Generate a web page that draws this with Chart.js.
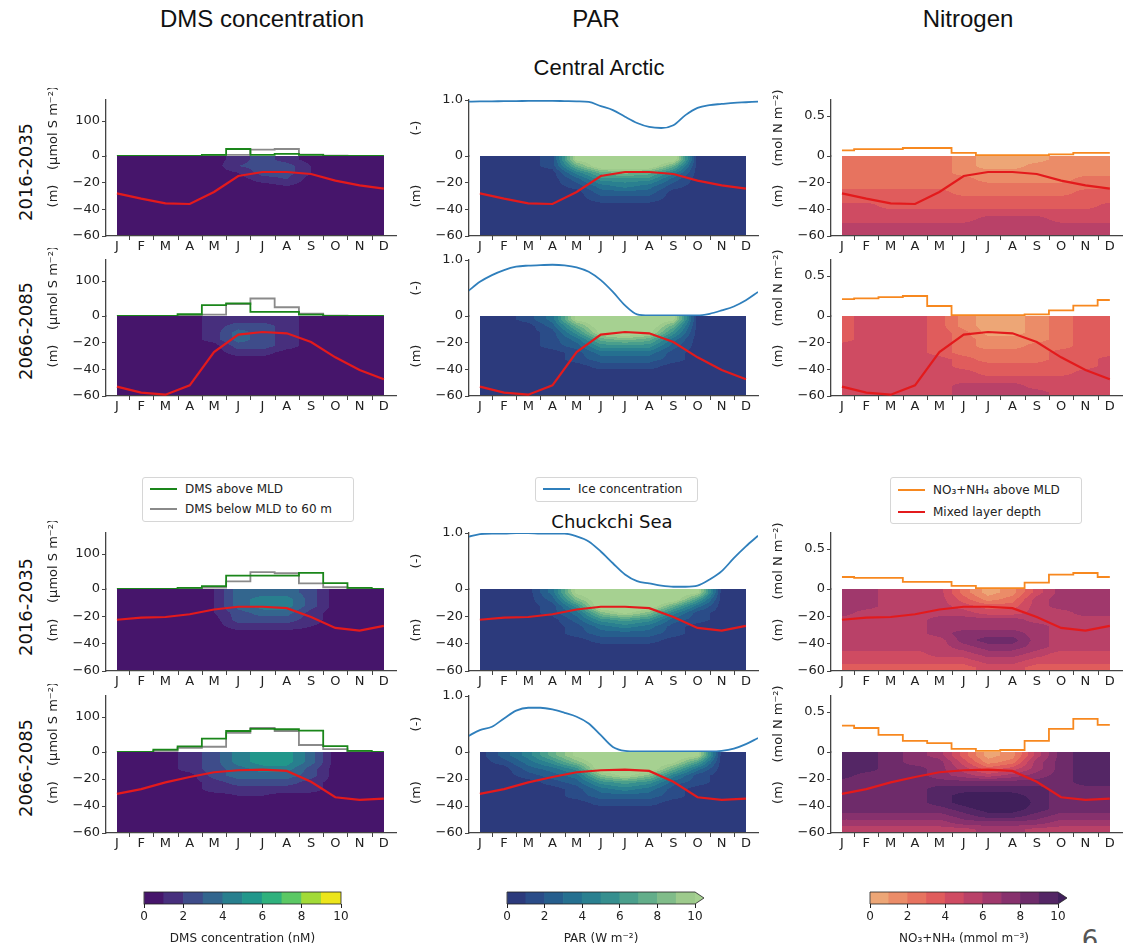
<!DOCTYPE html>
<html lang="en">
<head>
<meta charset="UTF-8">
<title>DMS, PAR and nitrogen - Central Arctic and Chuckchi Sea</title>
<script src="https://cdn.jsdelivr.net/npm/chart.js"></script>
<style>
    html, body { margin: 0; padding: 0; background: #fff; }
    body {
        width: 1128px; height: 943px; position: relative; overflow: hidden;
        font-family: "DejaVu Sans", sans-serif; color: #222;
    }
    canvas { position: absolute; }
    .t { position: absolute; white-space: nowrap; transform: translate(-50%, -50%); }
    .head { font-family: "Liberation Sans", Arial, sans-serif; font-size: 24px; color: #111; }
    .region { font-family: "Liberation Sans", Arial, sans-serif; font-size: 22px; color: #111; }
    .rowlab { position: absolute; white-space: nowrap; font-size: 18px; color: #111;
              transform: translate(-50%, -50%) rotate(-90deg); }
    .legend { position: absolute; border: 1px solid #d6d6d6; border-radius: 3px; background: #fff; font-size: 12px; }
    .legend .item { position: absolute; left: 0; height: 20px; line-height: 20px; white-space: nowrap; }
    .legend .ln { display: inline-block; width: 27px; height: 2px; vertical-align: middle; margin: 0 8px 2px 7px; }
</style>
</head>
<body>
<div class="t head" style="left:262px;top:19px">DMS concentration</div>
<div class="t head" style="left:596px;top:19px">PAR</div>
<div class="t head" style="left:968px;top:19px">Nitrogen</div>
<div class="t region" style="left:599px;top:68px">Central Arctic</div>
<div class="t" style="left:612px;top:521px;font-size:18px;color:#111">Chuckchi Sea</div>

<div class="rowlab" style="left:25px;top:172px">2016-2035</div>
<div class="rowlab" style="left:25px;top:331px">2066-2085</div>
<div class="rowlab" style="left:25px;top:607px">2016-2035</div>
<div class="rowlab" style="left:25px;top:768px">2066-2085</div>

<div class="legend" style="left:142px;top:477px;width:210px;height:43px">
    <div class="item" style="top:1px"><span class="ln" style="background:#1a861a"></span>DMS above MLD</div>
    <div class="item" style="top:21px"><span class="ln" style="background:#8a8a8a"></span>DMS below MLD to 60 m</div>
</div>
<div class="legend" style="left:535px;top:477px;width:161px;height:23px">
    <div class="item" style="top:1px"><span class="ln" style="background:#2f7fbc"></span>Ice concentration</div>
</div>
<div class="legend" style="left:890px;top:477px;width:190px;height:45px">
    <div class="item" style="top:2px"><span class="ln" style="background:#f7881f"></span>NO₃+NH₄ above MLD</div>
    <div class="item" style="top:24px"><span class="ln" style="background:#e31a1c"></span>Mixed layer depth</div>
</div>

<div class="t" style="left:1090px;top:940px;font-size:26px;color:#555">6</div>

<script>
    // ---- data ----
    const MONTHS = ['J', 'F', 'M', 'A', 'M', 'J', 'J', 'A', 'S', 'O', 'N', 'D'];
    const MONTH_X = [0, 1, 2, 3, 4, 5, 6, 7, 8, 9, 10, 11];
    const DEPTH_EDGES = [0, -5, -10, -15, -20, -25, -30, -35, -40, -45, -50, -55, -60];
    const DEPTH_TICKS = [-60, -40, -20];
    const CB_LEVELS = [0, 1, 2, 3, 4, 5, 6, 7, 8, 9, 10];
    const CB_TICKS = [0, 2, 4, 6, 8, 10];

    // mixed layer depth (m)
    const MLD_CA_2016 = [-28, -32, -35.5, -36, -27, -15, -12, -12, -13.5, -18.5, -22, -24.5];
    const MLD_CA_2066 = [-53, -57.5, -59, -52, -27, -14, -12, -13, -19.5, -31, -40.5, -47.5];
    const MLD_CS_2016 = [-22.5, -21, -20.5, -18.5, -15, -13, -13, -14, -20.5, -28.5, -30.5, -27];
    const MLD_CS_2066 = [-31, -27.5, -22.5, -18.5, -15, -13.5, -13, -14, -22, -33.5, -35.5, -34.5];

    // DMS inventories (umol S m-2)
    const DMS_ABOVE_CA_2016 = [0, 0, 0, 0, 3, 20, 3, 6, 3, 0, 0, 0];
    const DMS_BELOW_CA_2016 = [0, 0, 0, 0, 1, 3, 18, 20, 4, 1, 0, 0];
    const DMS_ABOVE_CA_2066 = [0, 0, 0, 5, 31, 36, 12, 12, 4, 0, 0, 0];
    const DMS_BELOW_CA_2066 = [0, 0, 0, 1, 4, 34, 50, 25, 7, 1, 0, 0];
    const DMS_ABOVE_CS_2016 = [0, 0, 0, 3, 8, 38, 38, 38, 46, 17, 3, 0];
    const DMS_BELOW_CS_2016 = [0, 0, 0, 1, 4, 22, 48, 45, 16, 5, 1, 0];
    const DMS_ABOVE_CS_2066 = [0, 0, 7, 16, 38, 60, 66, 65, 61, 17, 3, 0];
    const DMS_BELOW_CS_2066 = [0, 0, 3, 12, 15, 55, 69, 60, 20, 8, 2, 0];

    // ice concentration, read every half month
    const ICE_X = [-0.5, 0, 0.5, 1, 1.5, 2, 2.5, 3, 3.5, 4, 4.5, 5, 5.5, 6, 6.5, 7, 7.5, 8, 8.5, 9, 9.5, 10, 10.5, 11, 11.5];
    const ICE_CA_2016 = [0.97, 0.975, 0.975, 0.98, 0.98, 0.985, 0.985, 0.985, 0.98, 0.975, 0.965, 0.89, 0.82, 0.70, 0.59, 0.52, 0.50, 0.55, 0.73, 0.86, 0.91, 0.93, 0.95, 0.96, 0.97];
    const ICE_CA_2066 = [0.44, 0.61, 0.73, 0.82, 0.88, 0.90, 0.91, 0.915, 0.905, 0.87, 0.79, 0.64, 0.43, 0.19, 0.03, 0.01, 0.01, 0.01, 0.01, 0.01, 0.04, 0.10, 0.17, 0.28, 0.43];
    const ICE_CS_2016 = [0.93, 0.98, 0.99, 0.99, 1.0, 1.0, 0.99, 0.99, 0.99, 0.94, 0.85, 0.67, 0.46, 0.26, 0.14, 0.10, 0.06, 0.04, 0.04, 0.06, 0.17, 0.32, 0.55, 0.76, 0.95];
    const ICE_CS_2066 = [0.28, 0.39, 0.45, 0.60, 0.74, 0.79, 0.79, 0.76, 0.70, 0.63, 0.51, 0.30, 0.09, 0.02, 0.01, 0.01, 0.01, 0.01, 0.01, 0.01, 0.01, 0.02, 0.06, 0.14, 0.25];

    // NO3+NH4 above MLD (mol N m-2)
    const NIT_CA_2016 = [0.07, 0.085, 0.085, 0.10, 0.10, 0.04, 0.01, 0.01, 0.01, 0.02, 0.04, 0.04];
    const NIT_CA_2066 = [0.21, 0.22, 0.235, 0.25, 0.125, 0.01, 0.01, 0.01, 0.02, 0.07, 0.13, 0.20];
    const NIT_CS_2016 = [0.15, 0.14, 0.14, 0.09, 0.09, 0.04, 0.01, 0.01, 0.08, 0.18, 0.20, 0.15];
    const NIT_CS_2066 = [0.33, 0.30, 0.215, 0.14, 0.11, 0.04, 0.013, 0.025, 0.14, 0.29, 0.415, 0.34];

    // depth sections: rows = 5 m layers from the surface (values at layer centres), columns = months
    const DMS_GRID_CA_2016 = [
        [0, 0, 0, 0, 0, 1, 2, 1, 0, 0, 0, 0],
        [0, 0, 0, 0, 0, 1.5, 2, 2, 0.5, 0, 0, 0],
        [0, 0, 0, 0, 0, 0.5, 2, 2, 0.5, 0, 0, 0],
        [0, 0, 0, 0, 0, 0, 1, 1.5, 0, 0, 0, 0],
        [0, 0, 0, 0, 0, 0, 0, 0.5, 0, 0, 0, 0],
        [0, 0, 0, 0, 0, 0, 0, 0, 0, 0, 0, 0],
        [0, 0, 0, 0, 0, 0, 0, 0, 0, 0, 0, 0],
        [0, 0, 0, 0, 0, 0, 0, 0, 0, 0, 0, 0],
        [0, 0, 0, 0, 0, 0, 0, 0, 0, 0, 0, 0],
        [0, 0, 0, 0, 0, 0, 0, 0, 0, 0, 0, 0],
        [0, 0, 0, 0, 0, 0, 0, 0, 0, 0, 0, 0],
        [0, 0, 0, 0, 0, 0, 0, 0, 0, 0, 0, 0]
    ];
    const DMS_GRID_CA_2066 = [
        [0, 0, 0, 0, 1, 1, 1, 1, 0, 0, 0, 0],
        [0, 0, 0, 0, 1, 2, 2, 1, 0, 0, 0, 0],
        [0, 0, 0, 0, 1, 3, 2, 1, 0, 0, 0, 0],
        [0, 0, 0, 0, 1, 3, 2, 1, 0, 0, 0, 0],
        [0, 0, 0, 0, 0, 2, 2, 1, 0, 0, 0, 0],
        [0, 0, 0, 0, 0, 1, 1, 0, 0, 0, 0, 0],
        [0, 0, 0, 0, 0, 0, 0, 0, 0, 0, 0, 0],
        [0, 0, 0, 0, 0, 0, 0, 0, 0, 0, 0, 0],
        [0, 0, 0, 0, 0, 0, 0, 0, 0, 0, 0, 0],
        [0, 0, 0, 0, 0, 0, 0, 0, 0, 0, 0, 0],
        [0, 0, 0, 0, 0, 0, 0, 0, 0, 0, 0, 0],
        [0, 0, 0, 0, 0, 0, 0, 0, 0, 0, 0, 0]
    ];
    const DMS_GRID_CS_2016 = [
        [0, 0, 0, 0, 0.5, 3, 3, 3, 2, 0, 0, 0],
        [0, 0, 0, 0, 0.5, 3, 4, 4, 2, 0, 0, 0],
        [0, 0, 0, 0, 0.5, 3, 4, 4, 2, 0, 0, 0],
        [0, 0, 0, 0, 0.5, 2, 3, 3, 1, 0, 0, 0],
        [0, 0, 0, 0, 0, 2, 2, 2, 1, 0, 0, 0],
        [0, 0, 0, 0, 0, 1, 1, 1, 0.5, 0, 0, 0],
        [0, 0, 0, 0, 0, 0, 0, 0, 0, 0, 0, 0],
        [0, 0, 0, 0, 0, 0, 0, 0, 0, 0, 0, 0],
        [0, 0, 0, 0, 0, 0, 0, 0, 0, 0, 0, 0],
        [0, 0, 0, 0, 0, 0, 0, 0, 0, 0, 0, 0],
        [0, 0, 0, 0, 0, 0, 0, 0, 0, 0, 0, 0],
        [0, 0, 0, 0, 0, 0, 0, 0, 0, 0, 0, 0]
    ];
    const DMS_GRID_CS_2066 = [
        [0, 0, 0, 1, 2, 4, 5, 5, 3, 0, 0, 0],
        [0, 0, 0, 1, 2, 4, 5, 5, 3, 0, 0, 0],
        [0, 0, 0, 1, 2, 3, 4, 4, 2, 0, 0, 0],
        [0, 0, 0, 0, 2, 3, 3, 3, 2, 0, 0, 0],
        [0, 0, 0, 0, 1, 2, 2, 2, 1, 0, 0, 0],
        [0, 0, 0, 0, 1, 1, 1, 1, 1, 0, 0, 0],
        [0, 0, 0, 0, 0, 0.5, 0.5, 0, 0, 0, 0, 0],
        [0, 0, 0, 0, 0, 0, 0, 0, 0, 0, 0, 0],
        [0, 0, 0, 0, 0, 0, 0, 0, 0, 0, 0, 0],
        [0, 0, 0, 0, 0, 0, 0, 0, 0, 0, 0, 0],
        [0, 0, 0, 0, 0, 0, 0, 0, 0, 0, 0, 0],
        [0, 0, 0, 0, 0, 0, 0, 0, 0, 0, 0, 0]
    ];
    const PAR_GRID_CA_2016 = [
        [0, 0, 0, 1, 10, 11, 11, 11, 11, 0, 0, 0],
        [0, 0, 0, 1, 7, 11, 11, 11, 7, 0, 0, 0],
        [0, 0, 0, 0, 4, 7, 8, 7, 4, 0, 0, 0],
        [0, 0, 0, 0, 2, 5, 5, 5, 2, 0, 0, 0],
        [0, 0, 0, 0, 1, 3, 4, 3, 1, 0, 0, 0],
        [0, 0, 0, 0, 0, 2, 2, 2, 0, 0, 0, 0],
        [0, 0, 0, 0, 0, 1, 1, 1, 0, 0, 0, 0],
        [0, 0, 0, 0, 0, 0, 0, 0, 0, 0, 0, 0],
        [0, 0, 0, 0, 0, 0, 0, 0, 0, 0, 0, 0],
        [0, 0, 0, 0, 0, 0, 0, 0, 0, 0, 0, 0],
        [0, 0, 0, 0, 0, 0, 0, 0, 0, 0, 0, 0],
        [0, 0, 0, 0, 0, 0, 0, 0, 0, 0, 0, 0]
    ];
    const PAR_GRID_CA_2066 = [
        [0, 0, 1, 3, 10, 11, 11, 11, 10, 0, 0, 0],
        [0, 0, 0, 2, 7, 11, 11, 11, 7, 0, 0, 0],
        [0, 0, 0, 1, 5, 10, 11, 10, 5, 0, 0, 0],
        [0, 0, 0, 1, 3, 7, 8, 7, 3, 0, 0, 0],
        [0, 0, 0, 1, 2, 5, 5, 5, 2, 0, 0, 0],
        [0, 0, 0, 0, 1, 3, 3, 3, 1, 0, 0, 0],
        [0, 0, 0, 0, 1, 2, 2, 2, 1, 0, 0, 0],
        [0, 0, 0, 0, 0, 1, 1, 1, 0, 0, 0, 0],
        [0, 0, 0, 0, 0, 0, 0, 0, 0, 0, 0, 0],
        [0, 0, 0, 0, 0, 0, 0, 0, 0, 0, 0, 0],
        [0, 0, 0, 0, 0, 0, 0, 0, 0, 0, 0, 0],
        [0, 0, 0, 0, 0, 0, 0, 0, 0, 0, 0, 0]
    ];
    const PAR_GRID_CS_2016 = [
        [0, 0, 0, 3, 10, 11, 11, 11, 11, 10, 0, 0],
        [0, 0, 0, 2, 8, 11, 11, 11, 11, 6, 0, 0],
        [0, 0, 0, 1, 5, 11, 11, 11, 7, 3, 0, 0],
        [0, 0, 0, 1, 3, 8, 10, 8, 4, 1, 0, 0],
        [0, 0, 0, 0, 2, 5, 6, 5, 2, 1, 0, 0],
        [0, 0, 0, 0, 1, 3, 4, 3, 1, 0, 0, 0],
        [0, 0, 0, 0, 1, 2, 2, 2, 1, 0, 0, 0],
        [0, 0, 0, 0, 0, 1, 1, 1, 0, 0, 0, 0],
        [0, 0, 0, 0, 0, 0, 0, 0, 0, 0, 0, 0],
        [0, 0, 0, 0, 0, 0, 0, 0, 0, 0, 0, 0],
        [0, 0, 0, 0, 0, 0, 0, 0, 0, 0, 0, 0],
        [0, 0, 0, 0, 0, 0, 0, 0, 0, 0, 0, 0]
    ];
    const PAR_GRID_CS_2066 = [
        [0, 2, 4, 7, 10, 11, 11, 11, 11, 10, 0, 0],
        [0, 1, 3, 5, 8, 11, 11, 11, 10, 6, 0, 0],
        [0, 0, 2, 3, 5, 11, 11, 11, 7, 3, 0, 0],
        [0, 0, 1, 2, 3, 8, 10, 8, 4, 1, 0, 0],
        [0, 0, 0, 1, 2, 5, 6, 5, 2, 1, 0, 0],
        [0, 0, 0, 0, 1, 3, 4, 3, 1, 0, 0, 0],
        [0, 0, 0, 0, 1, 2, 2, 2, 1, 0, 0, 0],
        [0, 0, 0, 0, 0, 1, 1, 1, 0, 0, 0, 0],
        [0, 0, 0, 0, 0, 0, 0, 0, 0, 0, 0, 0],
        [0, 0, 0, 0, 0, 0, 0, 0, 0, 0, 0, 0],
        [0, 0, 0, 0, 0, 0, 0, 0, 0, 0, 0, 0],
        [0, 0, 0, 0, 0, 0, 0, 0, 0, 0, 0, 0]
    ];
    const NIT_GRID_CA_2016 = [
        [2, 2, 2, 2, 2, 1, 0, 0, 0, 1, 1, 1],
        [2, 2, 2, 2, 2, 1, 0, 0, 1, 1, 1, 1],
        [2, 2, 2, 2, 2, 1, 1, 1, 1, 1, 1, 1],
        [2, 2, 2, 2, 2, 2, 1, 1, 1, 1, 2, 2],
        [2, 2, 2, 2, 2, 2, 2, 2, 2, 2, 2, 2],
        [3, 3, 3, 3, 3, 2, 2, 2, 2, 2, 3, 3],
        [3, 3, 3, 3, 3, 3, 3, 3, 3, 3, 3, 3],
        [4, 4, 3, 3, 3, 3, 3, 3, 3, 3, 3, 4],
        [4, 4, 4, 4, 4, 4, 4, 4, 4, 4, 4, 4],
        [4, 4, 4, 4, 4, 4, 5, 5, 5, 4, 4, 4],
        [5, 5, 5, 5, 5, 5, 5, 5, 5, 5, 5, 5],
        [5, 5, 5, 5, 5, 5, 5, 5, 5, 5, 5, 5]
    ];
    const NIT_GRID_CA_2066 = [
        [3, 4, 4, 4, 3, 1, 0, 0, 1, 2, 3, 3],
        [3, 4, 4, 4, 3, 1, 0, 0, 1, 2, 3, 3],
        [3, 4, 4, 4, 3, 2, 0, 0, 1, 2, 3, 3],
        [3, 4, 4, 4, 3, 2, 1, 1, 1, 2, 3, 3],
        [4, 4, 4, 4, 3, 2, 1, 1, 2, 2, 3, 3],
        [4, 4, 4, 4, 3, 2, 2, 2, 2, 3, 3, 3],
        [4, 4, 4, 4, 4, 3, 2, 2, 2, 3, 3, 4],
        [4, 4, 4, 4, 4, 3, 3, 3, 3, 3, 3, 4],
        [4, 4, 4, 4, 4, 4, 3, 3, 3, 3, 4, 4],
        [4, 4, 4, 4, 4, 4, 4, 4, 4, 4, 4, 4],
        [4, 4, 4, 4, 4, 5, 5, 5, 4, 4, 4, 4],
        [4, 4, 4, 4, 4, 5, 5, 5, 5, 4, 4, 4]
    ];
    const NIT_GRID_CS_2016 = [
        [6, 6, 5, 5, 5, 2, 0, 1, 4, 6, 6, 6],
        [6, 6, 5, 5, 5, 3, 1, 2, 5, 6, 6, 6],
        [6, 6, 5, 5, 5, 4, 3, 3, 5, 6, 6, 6],
        [6, 5, 5, 5, 5, 5, 4, 4, 5, 5, 6, 6],
        [5, 5, 5, 5, 6, 6, 6, 6, 5, 5, 5, 5],
        [5, 5, 5, 5, 6, 6, 6, 6, 6, 5, 5, 5],
        [5, 5, 5, 5, 6, 7, 7, 7, 6, 5, 5, 5],
        [5, 5, 5, 5, 5, 7, 8, 8, 6, 5, 5, 5],
        [5, 5, 5, 5, 5, 6, 7, 7, 6, 5, 5, 5],
        [4, 4, 4, 4, 5, 5, 6, 6, 5, 4, 4, 4],
        [4, 4, 4, 4, 4, 4, 5, 5, 4, 4, 4, 4],
        [3, 3, 3, 3, 3, 3, 4, 4, 3, 3, 3, 3]
    ];
    const NIT_GRID_CS_2066 = [
        [9, 9, 8, 7, 6, 3, 0, 1, 5, 8, 9, 9],
        [9, 9, 8, 7, 7, 4, 1, 2, 6, 8, 9, 9],
        [9, 9, 8, 8, 7, 5, 3, 4, 6, 8, 9, 9],
        [9, 8, 8, 8, 7, 6, 5, 6, 7, 8, 9, 9],
        [8, 8, 8, 8, 8, 8, 8, 8, 8, 8, 9, 9],
        [8, 8, 8, 8, 9, 9, 9, 9, 9, 8, 8, 8],
        [8, 8, 8, 8, 9, 10, 10, 10, 9, 8, 8, 8],
        [8, 8, 8, 8, 9, 10, 11, 11, 9, 8, 8, 8],
        [8, 8, 8, 8, 8, 9, 10, 10, 9, 8, 8, 8],
        [7, 7, 7, 7, 7, 8, 9, 9, 8, 7, 7, 7],
        [6, 6, 6, 6, 6, 7, 7, 7, 7, 6, 6, 6],
        [5, 5, 5, 5, 5, 5, 6, 6, 5, 5, 5, 5]
    ];

    // ---- styles ----
    const DMS_COLORS = ['#46156b', '#472f7d', '#3e4c8a', '#33668e', '#287f8e', '#21978b', '#2fb17d', '#5bc864', '#a2da37', '#ece51b'];
    const PAR_COLORS = ['#2c3a7c', '#2a4c88', '#265e8d', '#257090', '#2a8090', '#368f8f', '#4a9f8c', '#63ae8a', '#80bc89', '#9dca8c', '#a6d191'];
    const NIT_COLORS = ['#eda676', '#eb8c68', '#e7735f', '#e05c5c', '#cf4b62', '#b94168', '#a0386c', '#87316d', '#6e2b6a', '#542665', '#401f5b'];
    const RED = '#e31a1c', GREEN = '#1a861a', GREY = '#8a8a8a', BLUE = '#2f7fbc', ORANGE = '#f7881f';
    const AXIS = '#444', TXT = '#222';
    const FONT = { family: 'DejaVu Sans', size: 13 };

    Chart.defaults.font.family = 'DejaVu Sans';

    const ROWS = [
        { top: 100, bot: 236, mld: MLD_CA_2016, above: DMS_ABOVE_CA_2016, below: DMS_BELOW_CA_2016, dms: DMS_GRID_CA_2016, ice: ICE_CA_2016, par: PAR_GRID_CA_2016, nit: NIT_CA_2016, nitGrid: NIT_GRID_CA_2016 },
        { top: 260, bot: 396, mld: MLD_CA_2066, above: DMS_ABOVE_CA_2066, below: DMS_BELOW_CA_2066, dms: DMS_GRID_CA_2066, ice: ICE_CA_2066, par: PAR_GRID_CA_2066, nit: NIT_CA_2066, nitGrid: NIT_GRID_CA_2066 },
        { top: 533, bot: 671, mld: MLD_CS_2016, above: DMS_ABOVE_CS_2016, below: DMS_BELOW_CS_2016, dms: DMS_GRID_CS_2016, ice: ICE_CS_2016, par: PAR_GRID_CS_2016, nit: NIT_CS_2016, nitGrid: NIT_GRID_CS_2016 },
        { top: 696, bot: 833, mld: MLD_CS_2066, above: DMS_ABOVE_CS_2066, below: DMS_BELOW_CS_2066, dms: DMS_GRID_CS_2066, ice: ICE_CS_2066, par: PAR_GRID_CS_2066, nit: NIT_CS_2066, nitGrid: NIT_GRID_CS_2066 }
    ];

    const monthly = arr => arr.map((v, i) => ({ x: MONTH_X[i], y: v }));
    const line = (data, color, axis, width, extra) => Object.assign({
        data: data, yAxisID: axis, borderColor: color, borderWidth: width,
        pointRadius: 0, fill: false, tension: 0
    }, extra || {});

    const COLS = [
        {
            left: 44, right: 396, topMax: 160, topTicks: [0, 100], dec: false, title: '(µmol S m⁻²)',
            grid: r => r.dms, colors: DMS_COLORS,
            sets: r => [
                line(monthly(r.mld), RED, 'yB', 2.2),
                line(monthly(r.above), GREEN, 'yT', 1.8, { stepped: 'middle' }),
                line(monthly(r.below), GREY, 'yT', 1.8, { stepped: 'middle' })
            ]
        },
        {
            left: 407, right: 758, topMax: 1.0, topTicks: [0, 0.5, 1.0], dec: true, title: '(-)',
            grid: r => r.par, colors: PAR_COLORS,
            sets: r => [
                line(monthly(r.mld), RED, 'yB', 2.2),
                line(r.ice.map((v, i) => ({ x: ICE_X[i], y: v })), BLUE, 'yT', 1.8, { cubicInterpolationMode: 'monotone' })
            ]
        },
        {
            left: 769, right: 1122, topMax: 0.7, topTicks: [0, 0.5], dec: true, title: '(mol N m⁻²)',
            grid: r => r.nitGrid, colors: NIT_COLORS,
            sets: r => [
                line(monthly(r.mld), RED, 'yB', 2.2),
                line(monthly(r.nit), ORANGE, 'yT', 1.8, { stepped: 'middle' })
            ]
        }
    ];

    // ---- filled depth section ----
    const DEPTH_C = DEPTH_EDGES.slice(0, -1).map((e, i) => (e + DEPTH_EDGES[i + 1]) / 2);

    // fractional position of v inside a monotonic list of grid centres
    function fracPos(v, c) {
        const n = c.length;
        for (let k = 0; k < n - 1; k++) {
            const a = c[k], b = c[k + 1];
            if ((v - a) * (v - b) <= 0) return k + (v - a) / (b - a);
        }
        return Math.abs(v - c[0]) < Math.abs(v - c[n - 1]) ? 0 : n - 1;
    }

    function sample(grid, fr, fc) {
        const r0 = Math.floor(fr), c0 = Math.floor(fc);
        const r1 = Math.min(r0 + 1, grid.length - 1), c1 = Math.min(c0 + 1, grid[0].length - 1);
        const tr = fr - r0, tc = fc - c0;
        const a = grid[r0][c0] * (1 - tc) + grid[r0][c1] * tc;
        const b = grid[r1][c0] * (1 - tc) + grid[r1][c1] * tc;
        return a * (1 - tr) + b * tr;
    }

    const hexRgb = h => [1, 3, 5].map(i => parseInt(h.substr(i, 2), 16));

    function sectionPlugin(grid, colors) {
        const rgb = colors.map(hexRgb);
        return {
            id: 'section',
            beforeDraw(chart) {
                const ctx = chart.ctx, xs = chart.scales.x, ys = chart.scales.yB;
                const left = Math.round(xs.getPixelForValue(MONTH_X[0]));
                const right = Math.round(xs.getPixelForValue(MONTH_X[MONTH_X.length - 1]));
                const top = Math.round(ys.getPixelForValue(DEPTH_EDGES[0]));
                const bottom = Math.round(ys.getPixelForValue(DEPTH_EDGES[DEPTH_EDGES.length - 1]));
                const w = right - left, h = bottom - top;
                const img = ctx.createImageData(w, h);
                const fc = [], fr = [];
                for (let i = 0; i < w; i++) fc.push(fracPos(xs.getValueForPixel(left + i + 0.5), MONTH_X));
                for (let j = 0; j < h; j++) fr.push(fracPos(ys.getValueForPixel(top + j + 0.5), DEPTH_C));
                for (let j = 0; j < h; j++) {
                    for (let i = 0; i < w; i++) {
                        const v = sample(grid, fr[j], fc[i]);
                        const band = Math.max(0, Math.min(rgb.length - 1, Math.floor(v + 0.5)));
                        const p = (j * w + i) * 4, c = rgb[band];
                        img.data[p] = c[0]; img.data[p + 1] = c[1]; img.data[p + 2] = c[2]; img.data[p + 3] = 255;
                    }
                }
                ctx.putImageData(img, left, top);
            },
            afterDraw(chart) {
                // tick marks between month labels
                const ctx = chart.ctx, x = chart.scales.x;
                ctx.save();
                ctx.strokeStyle = AXIS;
                ctx.lineWidth = 1;
                ctx.beginPath();
                for (let i = 0; i < MONTH_X.length - 1; i++) {
                    const px = Math.round(x.getPixelForValue(MONTH_X[i] + 0.5)) + 0.5;
                    ctx.moveTo(px, x.top);
                    ctx.lineTo(px, x.top + 4);
                }
                ctx.stroke();
                ctx.restore();
            }
        };
    }

    const PAD_T = 12, X_H = 24, Y_W = 62, TOP_H = 56;

    function panel(col, row) {
        const cv = document.createElement('canvas');
        const w = col.right + 4 - col.left;
        const h = row.bot - row.top + PAD_T + X_H;
        cv.width = w; cv.height = h;
        cv.style.left = col.left + 'px';
        cv.style.top = (row.top - PAD_T) + 'px';
        document.body.appendChild(cv);

        new Chart(cv, {
            type: 'line',
            data: { datasets: col.sets(row) },
            options: {
                responsive: false, animation: false, events: [],
                layout: { padding: { top: PAD_T, right: 4, left: 0, bottom: 0 } },
                plugins: { legend: { display: false }, tooltip: { enabled: false } },
                scales: {
                    x: {
                        type: 'linear', min: -0.45, max: 11.5,
                        afterBuildTicks: s => { s.ticks = MONTH_X.map(v => ({ value: v })); },
                        afterFit: s => { s.height = X_H; },
                        ticks: { autoSkip: false, maxRotation: 0, padding: 3, color: TXT, font: FONT,
                                 callback: v => MONTHS[Math.round(v)] },
                        grid: { drawOnChartArea: false, drawTicks: false },
                        border: { display: true, color: AXIS, width: 1.3 }
                    },
                    yB: {
                        type: 'linear', position: 'left', stack: 'v', stackWeight: row.bot - row.top - TOP_H,
                        min: -60, max: 0,
                        afterBuildTicks: s => { s.ticks = DEPTH_TICKS.map(v => ({ value: v })); },
                        afterFit: s => { s.width = Y_W; },
                        ticks: { padding: 2, color: TXT, font: FONT, callback: v => '\u2212' + Math.abs(v) },
                        grid: { drawOnChartArea: false, tickLength: 4, color: AXIS },
                        border: { display: true, color: AXIS, width: 1.3 },
                        title: { display: true, text: '(m)', color: TXT, font: FONT, padding: { top: 2, bottom: 0 } }
                    },
                    yT: {
                        type: 'linear', position: 'left', stack: 'v', stackWeight: TOP_H,
                        min: 0, max: col.topMax,
                        afterBuildTicks: s => { s.ticks = col.topTicks.map(v => ({ value: v })); },
                        afterFit: s => { s.width = Y_W; },
                        ticks: { padding: 2, color: TXT, font: FONT,
                                 callback: v => v === 0 ? '0' : (col.dec ? v.toFixed(1) : String(v)) },
                        grid: { drawOnChartArea: false, tickLength: 4, color: AXIS },
                        border: { display: true, color: AXIS, width: 1.3 },
                        title: { display: true, text: col.title, color: TXT, font: FONT, padding: { top: 2, bottom: 0 } }
                    }
                }
            },
            plugins: [sectionPlugin(col.grid(row), col.colors)]
        });
    }

    ROWS.forEach(r => COLS.forEach(c => panel(c, r)));

    // ---- colour bars ----
    function colorbar(left, right, colors, extend, title) {
        const cv = document.createElement('canvas');
        const padL = 14, padR = 16;
        cv.width = right - left + padL + padR; cv.height = 56;
        cv.style.left = (left - padL) + 'px';
        cv.style.top = '890px';
        document.body.appendChild(cv);

        const outline = {
            id: 'outline',
            afterDatasetsDraw(chart) {
                const ctx = chart.ctx, a = chart.chartArea, x = chart.scales.x;
                ctx.save();
                ctx.strokeStyle = '#222';
                ctx.lineWidth = 0.8;
                if (extend) {
                    const x10 = x.getPixelForValue(CB_LEVELS[CB_LEVELS.length - 1]);
                    const mid = (a.top + a.bottom) / 2;
                    ctx.fillStyle = colors[colors.length - 1];
                    ctx.beginPath();
                    ctx.moveTo(x10, a.top); ctx.lineTo(x10 + 9, mid); ctx.lineTo(x10, a.bottom);
                    ctx.closePath();
                    ctx.fill();
                    ctx.beginPath();
                    ctx.moveTo(x10, a.top); ctx.lineTo(a.left, a.top); ctx.lineTo(a.left, a.bottom);
                    ctx.lineTo(x10, a.bottom); ctx.lineTo(x10 + 9, mid);
                    ctx.closePath();
                    ctx.stroke();
                } else {
                    ctx.strokeRect(a.left, a.top, a.right - a.left, a.bottom - a.top);
                }
                ctx.restore();
            }
        };

        new Chart(cv, {
            type: 'bar',
            data: {
                labels: ['cb'],
                datasets: [{
                    data: CB_LEVELS.slice(0, -1).map((v, i) => ({ y: 'cb', x: [v, CB_LEVELS[i + 1]] })),
                    backgroundColor: colors.slice(0, 10),
                    borderWidth: 0, barPercentage: 1, categoryPercentage: 1
                }]
            },
            options: {
                indexAxis: 'y', responsive: false, animation: false, events: [],
                layout: { padding: { top: 2, left: padL, right: padR, bottom: 0 } },
                plugins: { legend: { display: false }, tooltip: { enabled: false } },
                scales: {
                    y: { type: 'category', display: false },
                    x: {
                        type: 'linear', min: 0, max: 10,
                        afterBuildTicks: s => { s.ticks = CB_TICKS.map(v => ({ value: v })); },
                        afterFit: s => { s.height = 42; },
                        ticks: { padding: 2, color: TXT, font: { size: 12 } },
                        grid: { drawOnChartArea: false, tickLength: 4, color: '#222' },
                        border: { display: false },
                        title: { display: true, text: title, color: TXT, font: { size: 12 }, padding: { top: 4, bottom: 0 } }
                    }
                }
            },
            plugins: [outline]
        });
    }

    colorbar(144, 341, DMS_COLORS, false, 'DMS concentration (nM)');
    colorbar(507, 695, PAR_COLORS, true, 'PAR (W m⁻²)');
    colorbar(870, 1058, NIT_COLORS, true, 'NO₃+NH₄ (mmol m⁻³)');
</script>
</body>
</html>
